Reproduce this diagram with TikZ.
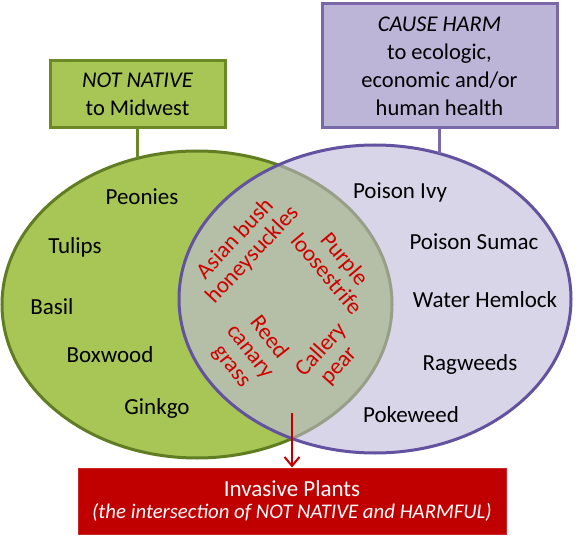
\documentclass[tikz,border=0pt]{standalone}
\usepackage{fontspec}
\setmainfont{Carlito}
\usetikzlibrary{shapes.geometric,arrows.meta}
\definecolor{gfill}{HTML}{A7C656}
\definecolor{gline}{HTML}{617D22}
\definecolor{gbline}{HTML}{6B8A25}
\definecolor{pfill}{HTML}{D9D5E9}
\definecolor{pline}{HTML}{6352A0}
\definecolor{pbfill}{HTML}{BCB5D8}
\definecolor{pbline}{HTML}{7B68A8}
\definecolor{ifill}{HTML}{B5BEA6}
\definecolor{iline}{HTML}{979F88}
\definecolor{dred}{HTML}{C00000}
\definecolor{tred}{HTML}{D00000}
\tikzset{
  lbl/.style={anchor=base, inner sep=0pt, font=\fontsize{23}{27}\selectfont},
  rlbl/.style={align=center, inner sep=0pt, text=tred, font=\fontsize{23}{23.5}\selectfont},
  gboxst/.style={draw=gbline, fill=gfill, line width=3pt, align=center, inner sep=0pt, font=\fontsize{22.5}{27.5}\selectfont},
  pboxst/.style={draw=pbline, fill=pbfill, line width=3pt, align=center, inner sep=0pt, font=\fontsize{22.5}{28}\selectfont},
  rboxst/.style={draw=dred!85!white, fill=dred, line width=1pt, align=center, inner sep=0pt, text=white},
  ell/.style={ellipse, inner sep=0pt, outer sep=0pt}
}
\begin{document}
\begin{tikzpicture}[x=1pt,y=-1pt]
\useasboundingbox (0,0) rectangle (581,540);
% ellipses
\node[ell, draw=gline, fill=gfill, line width=3pt, minimum width=390pt, minimum height=307pt] (gE) at (197,304.5) {};
\node[ell, fill=pfill, minimum width=392pt, minimum height=308pt] (pE) at (375,299) {};
\begin{scope}
  \clip (375,299) ellipse [x radius=196pt, y radius=154pt];
  \fill[ifill] (197,304.5) ellipse [x radius=195pt, y radius=153.5pt];
  \draw[iline, line width=3pt] (197,304.5) ellipse [x radius=195pt, y radius=153.5pt];
\end{scope}
\node[ell, draw=pline, line width=3pt, minimum width=392pt, minimum height=308pt] (pEb) at (375,299) {};
% boxes
\node[gboxst, minimum width=175pt, minimum height=67pt] (gbox) at (137.5,94.5) {\textit{NOT NATIVE}\\to Midwest};
\node[pboxst, minimum width=235pt, minimum height=124pt] (pbox) at (439.5,66) {\textit{CAUSE HARM}\\to ecologic,\\economic and/or\\human health};
\draw[gbline, line width=2.5pt] (gbox.south) -- (gbox.south |- gE.112);
\draw[pbline, line width=2.5pt] (pbox.south) -- (pbox.south |- pEb.66);
% red box
\node[rboxst, minimum width=428pt, minimum height=66pt] (rbox) at (292,501) {{\fontsize{23}{26}\selectfont Invasive Plants}\\[6pt]{\fontsize{20.8}{26}\selectfont\itshape (the intersection of NOT NATIVE and HARMFUL)}};
\coordinate (arrS) at (292,413);
\draw[dred, line width=2pt, -{Straight Barb[length=9pt,width=15pt,line width=2pt]}] (arrS) -- (rbox.north);
% left labels
\node[lbl] (peo) at (142,205) {Peonies};
\node[lbl] (tul) at (75,254) {Tulips};
\node[lbl] (bas) at (52,314) {Basil};
\node[lbl] (box) at (110,362) {Boxwood};
\node[lbl] (gin) at (157,414) {Ginkgo};
% right labels
\node[lbl] (piv) at (400,199) {Poison Ivy};
\node[lbl] (psu) at (474,249) {Poison Sumac};
\node[lbl] (wah) at (485,307) {Water Hemlock};
\node[lbl] (rag) at (470,370) {Ragweeds};
\node[lbl] (pok) at (411,422) {Pokeweed};
% intersection labels
\node[rlbl, rotate=47] (abh) at (244,247) {Asian bush\\honeysuckles};
\node[rlbl, rotate=-50] (plo) at (336,266) {Purple\\loosestrife};
\node[rlbl, rotate=-52] (rcg) at (250,352) {Reed\\canary\\grass};
\node[rlbl, rotate=48] (cpe) at (330,358) {Callery\\pear};
\end{tikzpicture}
\end{document}
